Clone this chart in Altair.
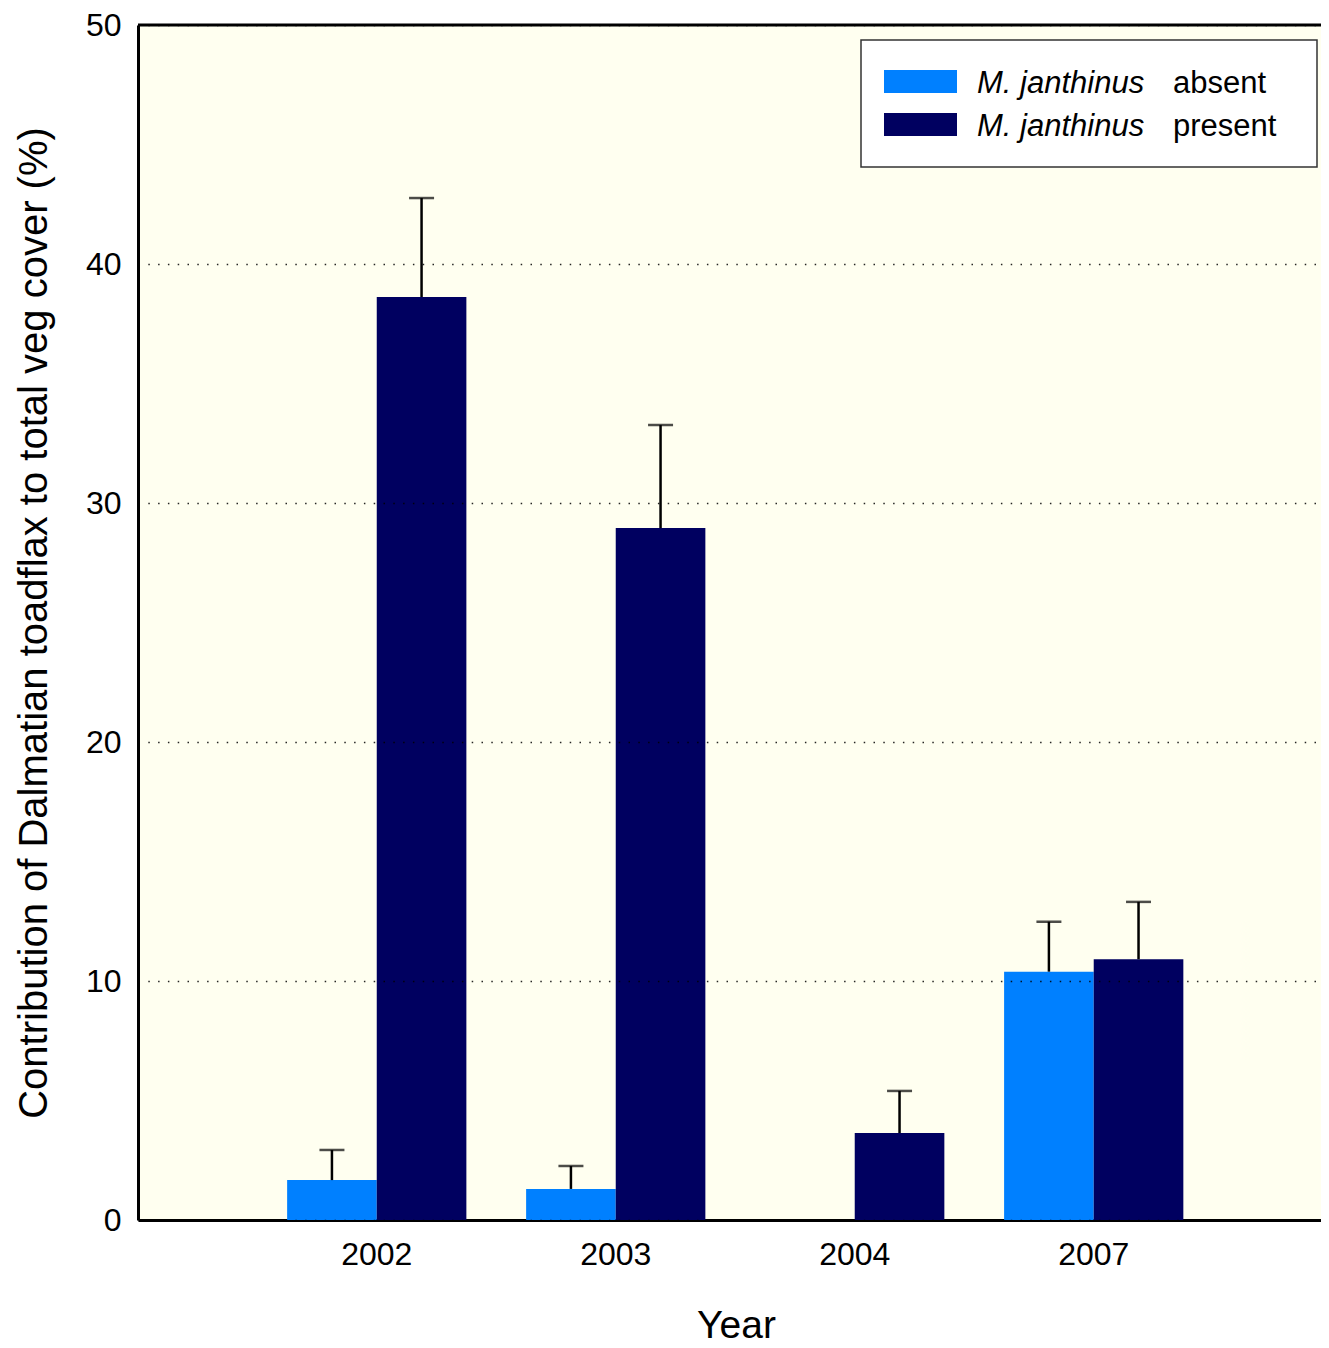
import altair as alt
import pandas as pd

# ---- data ----
years = ["2002", "2003", "2004", "2007"]
series = ["absent", "present"]
species = "M. janthinus"
absent_mean = [1.67, 1.30, None, 10.39]
absent_se = [1.26, 0.96, None, 2.09]
present_mean = [38.62, 28.95, 3.64, 10.91]
present_se = [4.14, 4.31, 1.76, 2.40]
y_ticks = [0, 10, 20, 30, 40, 50]
colors = ["#0080FF", "#000060"]

FONT = "Liberation Sans"

rows = []
for i, yr in enumerate(years):
    rows.append({"year": yr, "group": "absent", "mean": absent_mean[i], "se": absent_se[i]})
    rows.append({"year": yr, "group": "present", "mean": present_mean[i], "se": present_se[i]})
df = pd.DataFrame(rows)

base = alt.Chart(df).transform_filter("isValid(datum.mean)").transform_calculate(
    upper="datum.mean + datum.se"
)

x_enc = alt.X(
    "year:N",
    sort=years,
    scale=alt.Scale(paddingInner=0.25, paddingOuter=0.6, align=0.52),
    axis=alt.Axis(
        title="Year",
        labelAngle=0,
        labelFontSize=32,
        labelPadding=19,
        ticks=False,
        domainWidth=3,
        domainColor="black",
        titleFontSize=39,
        titleX=598,
        titleY=117,
        titleBaseline="alphabetic",
        grid=False,
    ),
)
xo_enc = alt.XOffset("group:N", sort=series, scale=alt.Scale(paddingInner=0, paddingOuter=0))

y_enc = alt.Y(
    "mean:Q",
    scale=alt.Scale(domain=[0, 50], nice=False, zero=True),
    axis=alt.Axis(
        title="Contribution of Dalmatian toadflax to total veg cover (%)",
        values=y_ticks,
        labelFontSize=32,
        labelPadding=17,
        ticks=False,
        domainWidth=3,
        domainColor="black",
        grid=True,
        gridColor="black",
        gridWidth=1.5,
        gridDash=[1.5, 8.3],
        gridOpacity=0.85,
        titleFontSize=40,
        titleAngle=270,
        titleX=-104,
        titleY=597.5,
        titleBaseline="middle",
        titleAlign="center",
        zindex=1,
    ),
)

bars = base.mark_bar(stroke=None).encode(
    x=x_enc,
    xOffset=xo_enc,
    y=y_enc,
    color=alt.Color("group:N", scale=alt.Scale(domain=series, range=colors), legend=None),
)

stems = base.mark_rule(color="black", strokeWidth=2.5).encode(
    x=alt.X("year:N", sort=years),
    xOffset=alt.XOffset("group:N", sort=series),
    y="mean:Q",
    y2="upper:Q",
)

caps = base.mark_tick(color="black", size=25, thickness=2.5).encode(
    x=alt.X("year:N", sort=years),
    xOffset=alt.XOffset("group:N", sort=series),
    y="upper:Q",
)

top_line = alt.Chart(alt.Data(values=[{"v": 50}])).mark_rule(
    color="black", strokeWidth=3
).encode(y=alt.Y("v:Q"))

one = alt.Data(values=[{"k": 1}])
legend_box = alt.Chart(one).mark_rect(fill="white", stroke="#333333", strokeWidth=1.5).encode(
    x=alt.value(723), x2=alt.value(1179), y=alt.value(15), y2=alt.value(142)
)

legend_layers = [legend_box]
for i, s in enumerate(series):
    dy = 43 * i
    legend_layers.append(
        alt.Chart(one).mark_rect(fill=colors[i]).encode(
            x=alt.value(746), x2=alt.value(819), y=alt.value(45 + dy), y2=alt.value(68 + dy)
        )
    )
    legend_layers.append(
        alt.Chart(one).mark_text(
            text=species, font=FONT, fontSize=31, fontStyle="italic",
            align="left", baseline="alphabetic", color="black"
        ).encode(x=alt.value(839), y=alt.value(68 + dy))
    )
    legend_layers.append(
        alt.Chart(one).mark_text(
            text=s, font=FONT, fontSize=31,
            align="left", baseline="alphabetic", color="black"
        ).encode(x=alt.value(1035), y=alt.value(68 + dy))
    )

chart = alt.layer(bars, stems, caps, top_line, *legend_layers).properties(
    width=1183,
    height=1195,
    padding={"left": 130, "top": 17, "right": 0, "bottom": 127},
    autosize=alt.AutoSizeParams(type="none"),
    background="white",
).configure_view(fill="#FFFFF0", strokeWidth=0).configure_axis(
    labelFont=FONT, titleFont=FONT, titleFontWeight="normal",
    labelColor="black", titleColor="black",
)

chart.save("out.html", embed_options={"renderer": "svg", "actions": False})
